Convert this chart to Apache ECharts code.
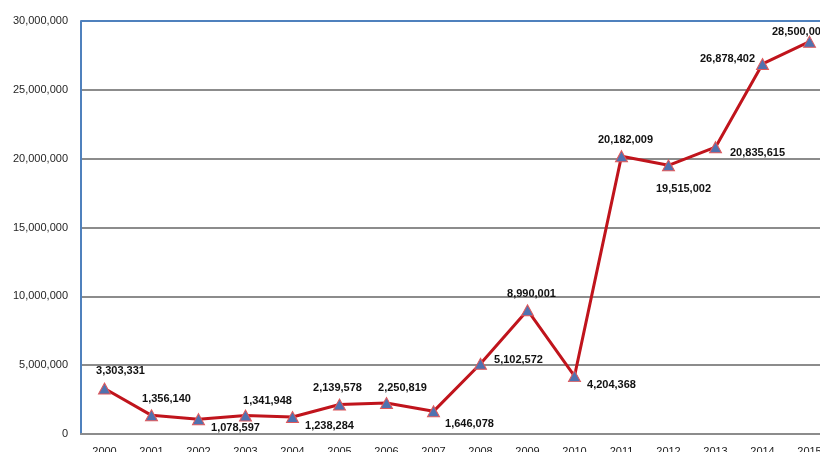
<!DOCTYPE html>
<html>
<head>
<meta charset="utf-8">
<script src="https://cdn.jsdelivr.net/npm/echarts@6/dist/echarts.min.js"></script>
<style>
  html, body { margin: 0; padding: 0; background: #fff; overflow: hidden; width: 820px; height: 452px; }
  #chart { width: 840px; height: 452px; }
</style>
</head>
<body>
<div id="chart"></div>
<script>
// Yearly totals, 2000–2015
const years = ['2000','2001','2002','2003','2004','2005','2006','2007',
               '2008','2009','2010','2011','2012','2013','2014','2015'];
const totals = [3303331, 1356140, 1078597, 1341948, 1238284, 2139578, 2250819, 1646078,
                5102572, 8990001, 4204368, 20182009, 19515002, 20835615, 26878402, 28500000];
const yTicks = [0, 5000000, 10000000, 15000000, 20000000, 25000000, 30000000];

// Where each value label sits relative to its marker (pixels, label centre)
const labelOffsets = [[16,-18],[15,-16],[37,9],[22,-15],[37,9],[-2,-17],[16,-15],[36,13],
                      [38,-4],[4,-16],[37,9],[4,-16],[15,24],[42,6],[-35,-5],[-10,-10]];

const fmt = v => Number(v).toLocaleString('en-US');

const chart = echarts.init(document.getElementById('chart'), null, { renderer: 'canvas' });
chart.setOption({
  animation: false,
  backgroundColor: '#ffffff',
  textStyle: { fontFamily: 'Liberation Sans' },
  grid: { left: 81, right: 7, top: 21, bottom: 18, containLabel: false, outerBoundsMode: 'none' },
  xAxis: {
    type: 'category',
    data: years,
    boundaryGap: true,
    axisLine: { lineStyle: { color: '#8c8c8c', width: 2 } },
    axisTick: { show: false },
    axisLabel: { color: '#1a1a1a', fontSize: 11, margin: 12 },
    splitLine: { show: false }
  },
  yAxis: {
    type: 'value',
    min: yTicks[0],
    max: yTicks[yTicks.length - 1],
    interval: yTicks[1] - yTicks[0],
    axisLine: { show: true, lineStyle: { color: '#4f81bd', width: 2 } },
    axisTick: { show: false },
    axisLabel: { color: '#262626', fontSize: 11, margin: 13, formatter: v => fmt(v) },
    splitLine: {
      show: true,
      lineStyle: {
        color: ['#8c8c8c','#8c8c8c','#8c8c8c','#8c8c8c','#8c8c8c','#8c8c8c','#4f81bd'],
        width: 2
      }
    }
  },
  series: [{
    type: 'line',
    data: totals.map((v, i) => ({
      value: v,
      label: { offset: labelOffsets[i] }
    })),
    lineStyle: { color: '#c0141c', width: 3 },
    symbol: 'triangle',
    symbolSize: [12, 11],
    itemStyle: { color: '#4f72b0', borderColor: '#e0575a', borderWidth: 1 },
    label: {
      show: true,
      position: 'inside',
      color: '#111',
      fontSize: 11,
      fontWeight: 'bold',
      formatter: p => fmt(p.value)
    },
    z: 3
  }]
});
</script>
</body>
</html>
